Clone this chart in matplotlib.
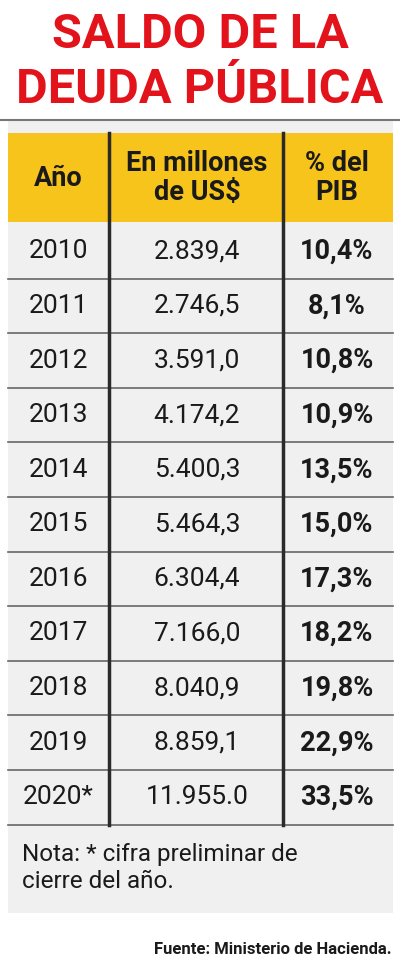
import matplotlib
matplotlib.use("Agg")
import matplotlib.pyplot as plt
from matplotlib.patches import Rectangle

title_lines = ["SALDO DE LA", "DEUDA PÚBLICA"]
headers = ["Año", "En millones\nde US$", "% del\nPIB"]
years = ["2010","2011","2012","2013","2014","2015","2016","2017","2018","2019","2020*"]
millones = ["2.839,4","2.746,5","3.591,0","4.174,2","5.400,3","5.464,3","6.304,4","7.166,0","8.040,9","8.859,1","11.955.0"]
pib = ["10,4%","8,1%","10,8%","10,9%","13,5%","15,0%","17,3%","18,2%","19,8%","22,9%","33,5%"]
nota = "Nota: * cifra preliminar de\ncierre del año."
fuente = "Fuente: Ministerio de Hacienda."

W, H = 400, 969
fig = plt.figure(figsize=(W/100, H/100), dpi=100)
ax = fig.add_axes([0, 0, 1, 1])
ax.set_xlim(0, W); ax.set_ylim(H, 0); ax.axis("off")
fam = ["Roboto", "DejaVu Sans"]

ax.text(200, 35, title_lines[0], ha="center", va="center", color="#e3131b", fontsize=35, fontweight="bold", family=fam)
ax.text(200, 90, title_lines[1], ha="center", va="center", color="#e3131b", fontsize=35, fontweight="bold", family=fam)

ax.add_patch(Rectangle((8, 121), 385, 792, color="#f0f0f0", lw=0))
ax.plot([0, 400], [120, 120], color="#777777", lw=1.5)
ax.add_patch(Rectangle((8, 133), 385, 89, color="#f6c41a", lw=0))

cx = [58, 197, 337]
for i, h in enumerate(headers):
    ax.text(cx[i], 178, h, ha="center", va="center", fontsize=19.5, fontweight="bold", family=fam, color="#1a1a1a", linespacing=1.1)

top, step = 224, 54.6
for r in range(len(years)):
    y = top + step * (r + 0.5)
    ax.text(cx[0], y, years[r], ha="center", va="center", fontsize=19, family=fam, color="#1a1a1a")
    ax.text(cx[1], y, millones[r], ha="center", va="center", fontsize=19, family=fam, color="#1a1a1a")
    ax.text(cx[2], y, pib[r], ha="center", va="center", fontsize=19.5, fontweight="bold", family=fam, color="#1a1a1a")
    if r > 0:
        yy = top + step * r
        ax.plot([8, 393], [yy, yy], color="#666666", lw=1.2)
bottom = top + step * len(years)
ax.plot([8, 393], [bottom, bottom], color="#666666", lw=1.2)
for x in (109, 283):
    ax.plot([x, x], [133, bottom], color="#2a2a2a", lw=2.5)

ax.text(22, 868, nota, ha="left", va="center", fontsize=17.5, family=fam, color="#1a1a1a", linespacing=1.2)
ax.text(392, 950, fuente, ha="right", va="center", fontsize=12, fontweight="bold", family=fam, color="#1a1a1a")

fig.savefig("out.png", dpi=100, facecolor="white")
